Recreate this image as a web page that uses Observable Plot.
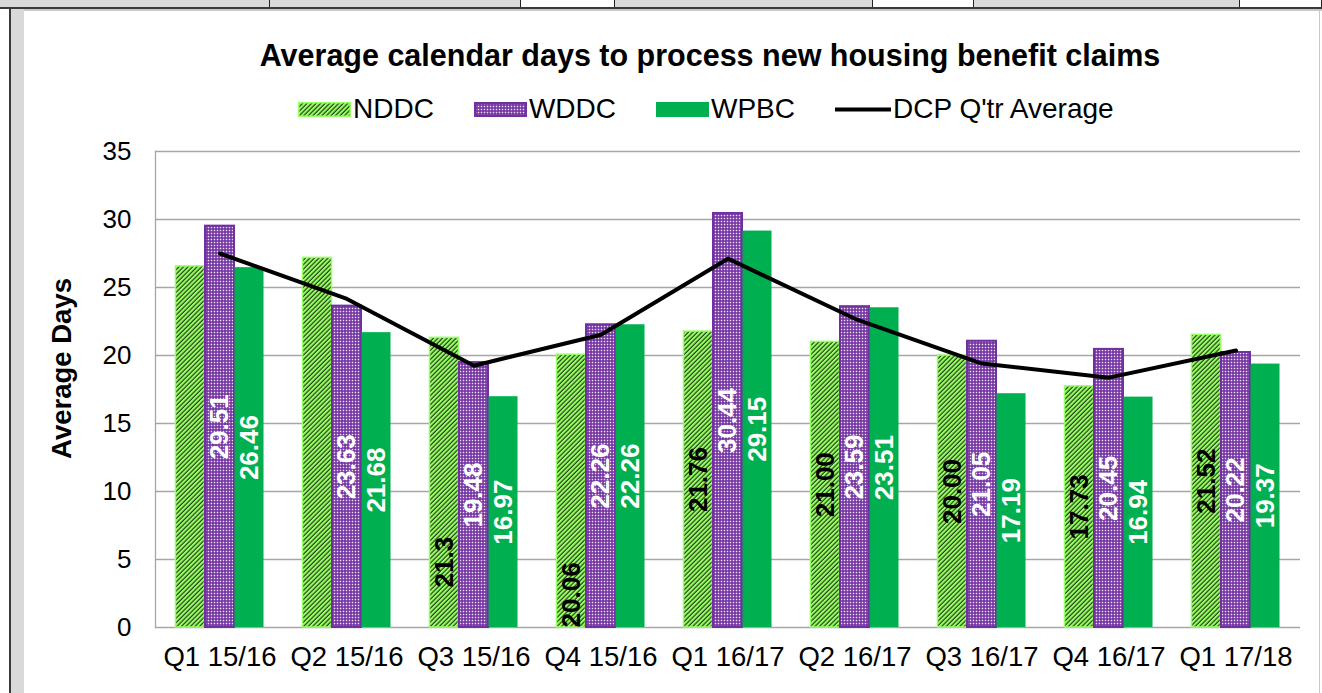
<!DOCTYPE html>
<html>
<head>
<meta charset="utf-8">
<script src="https://cdn.jsdelivr.net/npm/d3@7"></script>
<script src="https://cdn.jsdelivr.net/npm/@observablehq/plot@0.6"></script>
<style>
  html, body { margin: 0; padding: 0; background: #fff; }
  #page { position: relative; width: 1322px; height: 693px; overflow: hidden; font-family: "Liberation Sans", Arial, sans-serif; color: #000; background: #fff; }
  .cell { position: absolute; top: 0; height: 7px; background: #d9d9d9; border-right: 1px solid #222; }
  .wcell { position: absolute; top: 0; height: 7px; background: #fff; border-right: 1px solid #222; }
  #title { position: absolute; left: 160px; width: 1100px; top: 39px; text-align: center; font-weight: bold; font-size: 30.5px; line-height: 32px; white-space: nowrap; }
  #legend { position: absolute; left: 298px; top: 94px; height: 30px; display: flex; align-items: center; font-size: 28px; white-space: nowrap; }
  #legend .item { display: flex; align-items: center; margin-right: 40px; }
  #legend .item span { margin-left: 2px; }
  #chart { position: absolute; left: 0; top: 130px; }
  #chart [aria-label^="x-axis"] { font-size: 27.5px; }
</style>
</head>
<body>
<div id="page">
  <svg width="0" height="0" style="position:absolute">
    <defs>
      <pattern id="hatch" patternUnits="userSpaceOnUse" width="3.2" height="3.2" patternTransform="rotate(45)">
        <rect width="3.2" height="3.2" fill="#99ff66"></rect>
        <line x1="1" y1="0" x2="1" y2="3.2" stroke="#1f3a12" stroke-width="1.15"></line>
      </pattern>
      <pattern id="dots" patternUnits="userSpaceOnUse" width="3" height="3">
        <rect width="3" height="3" fill="#7030a0"></rect>
        <rect x="0.75" y="0.75" width="1.5" height="1.5" fill="#ffffff" fill-opacity="0.85"></rect>
      </pattern>
    </defs>
  </svg>
  <div id="topstrip"></div>
  <div style="position:absolute;left:0;top:7px;width:1322px;height:2px;background:#3a3a3a"></div>
  <div style="position:absolute;left:24px;top:9px;width:1298px;height:2px;background:#c8c8c8"></div>
  <div style="position:absolute;left:9px;top:7px;width:2px;height:686px;background:#3a3a3a"></div>
  <div style="position:absolute;left:11px;top:9px;width:13px;height:684px;background:#d9d9d9"></div>
  <div style="position:absolute;left:1319px;top:9px;width:1px;height:684px;background:#c8c8c8"></div>
  <div id="title"></div>
  <div id="legend"></div>
  <div id="chart"></div>
</div>
<script>
// ---- data ----
const quarters = ["Q1 15/16", "Q2 15/16", "Q3 15/16", "Q4 15/16", "Q1 16/17", "Q2 16/17", "Q3 16/17", "Q4 16/17", "Q1 17/18"];
const nddc = [26.55, 27.18, 21.3, 20.06, 21.76, 21.00, 20.00, 17.73, 21.52];
const wddc = [29.51, 23.63, 19.48, 22.26, 30.44, 23.59, 21.05, 20.45, 20.22];
const wpbc = [26.46, 21.68, 16.97, 22.26, 29.15, 23.51, 17.19, 16.94, 19.37];
const dcpAverage = [27.50, 24.16, 19.25, 21.53, 27.12, 22.70, 19.41, 18.37, 20.37];
const nddcLabels = [null, null, "21.3", "20.06", "21.76", "21.00", "20.00", "17.73", "21.52"];
const wddcLabels = ["29.51", "23.63", "19.48", "22.26", "30.44", "23.59", "21.05", "20.45", "20.22"];
const wpbcLabels = ["26.46", "21.68", "16.97", "22.26", "29.15", "23.51", "17.19", "16.94", "19.37"];
// where a label was moved by hand (value units); otherwise centred in the bar
const nddcLabelAt = [null, null, 4.8, 2.4, null, null, null, null, null];
const yTicks = [0, 5, 10, 15, 20, 25, 30, 35];
const seriesNames = ["NDDC", "WDDC", "WPBC", "DCP Q'tr Average"];
const titleText = "Average calendar days to process new housing benefit claims";
const yLabel = "Average Days";

// ---- top strip of spreadsheet cells ----
const strip = document.getElementById("topstrip");
[[0, 270, 1], [270, 521, 1], [521, 615, 0], [615, 873, 1], [873, 974, 0], [974, 1240, 1], [1240, 1322, 0]].forEach(([a, b, g]) => {
  const d = document.createElement("div");
  d.className = g ? "cell" : "wcell";
  d.style.left = a + "px";
  d.style.width = (b - a - 1) + "px";
  strip.appendChild(d);
});

// ---- title ----
document.getElementById("title").textContent = titleText;

// ---- legend ----
const legend = document.getElementById("legend");
const swatches = [
  `<svg width="53" height="15"><rect x="0.75" y="0.75" width="51.5" height="13.5" fill="url(#hatch)" stroke="#99ff66" stroke-width="1.5"></rect></svg>`,
  `<svg width="53" height="15"><rect x="1" y="1" width="51" height="13" fill="url(#dots)" stroke="#7030a0" stroke-width="2"></rect></svg>`,
  `<svg width="53" height="15"><rect width="53" height="15" fill="#00b050"></rect></svg>`,
  `<svg width="56" height="15"><line x1="0" y1="7.5" x2="56" y2="7.5" stroke="#000" stroke-width="4"></line></svg>`
];
seriesNames.forEach((name, i) => {
  const it = document.createElement("div");
  it.className = "item";
  it.innerHTML = swatches[i];
  const s = document.createElement("span");
  s.textContent = name;
  it.appendChild(s);
  legend.appendChild(it);
});

// ---- chart ----
const rows = quarters.map((q, i) => ({
  q,
  nddc: nddc[i], wddc: wddc[i], wpbc: wpbc[i], dcp: dcpAverage[i],
  nddcLabel: nddcLabels[i], wddcLabel: wddcLabels[i], wpbcLabel: wpbcLabels[i],
  nddcAt: nddcLabelAt[i]
}));

const W = 1322, H = 563, ML = 155, MR = 22, MT = 21, MB = 66;
const padIn = 0.768, padOut = padIn / 2;
const bw = (1 - padIn) * (W - ML - MR) / (quarters.length - padIn + 2 * padOut);

const labelStyle = {rotate: -90, textAnchor: "middle", lineAnchor: "middle", fontWeight: "bold", fontSize: 26};

const chart = Plot.plot({
  width: W,
  height: H,
  marginLeft: ML,
  marginRight: MR,
  marginTop: MT,
  marginBottom: MB,
  style: {fontFamily: "'Liberation Sans', Arial, sans-serif", fontSize: "26px", color: "#000", background: "transparent", overflow: "visible"},
  x: {domain: quarters, paddingInner: padIn, paddingOuter: padOut, tickSize: 0, tickPadding: 19, label: null},
  y: {domain: [0, 35], ticks: yTicks, tickSize: 0, tickPadding: 24, label: null},
  marks: [
    Plot.ruleY(yTicks, {stroke: "#a6a6a6", strokeWidth: 1.3}),
    Plot.frame({anchor: "left", stroke: "#a6a6a6", strokeWidth: 1.3}),
    Plot.barY(rows, {x: "q", y: "nddc", fill: "url(#hatch)", stroke: "#99ff66", strokeWidth: 1.5, dx: -bw}),
    Plot.barY(rows, {x: "q", y: "wddc", fill: "url(#dots)", stroke: "#7030a0", strokeWidth: 2}),
    Plot.barY(rows, {x: "q", y: "wpbc", fill: "#00b050", dx: bw}),
    Plot.lineY(rows, {x: "q", y: "dcp", stroke: "#000", strokeWidth: 4, strokeLinejoin: "round"}),
    Plot.text(rows.filter(d => d.nddcLabel), {x: "q", y: d => d.nddcAt ?? d.nddc / 2, text: "nddcLabel", dx: -bw, fill: "#000", ...labelStyle}),
    Plot.text(rows, {x: "q", y: d => d.wddc / 2, text: "wddcLabel", fill: "#fff", ...labelStyle}),
    Plot.text(rows, {x: "q", y: d => d.wpbc / 2, text: "wpbcLabel", dx: bw, fill: "#fff", ...labelStyle}),
    Plot.text([yLabel], {frameAnchor: "left", textAnchor: "middle", dx: -93, dy: -21, rotate: -90, fontWeight: "bold", fontSize: 27.5, fill: "#000"})
  ]
});
document.getElementById("chart").appendChild(chart);
</script>
</body>
</html>
